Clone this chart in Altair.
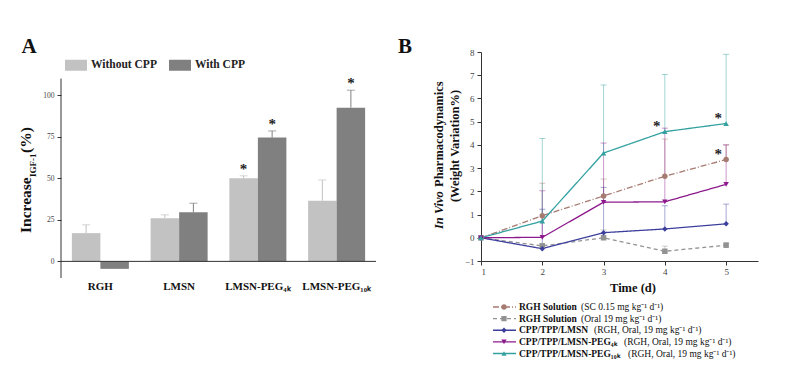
import altair as alt
import pandas as pd

SERIF = "Liberation Serif"

# ---------------- Panel A data ----------------
categories = ["RGH", "LMSN", "LMSN-PEG₄ₖ", "LMSN-PEG₁₀ₖ"]
groups = ["Without CPP", "With CPP"]
without_cpp = [17.0, 26.0, 50.0, 36.5]
without_err = [5.0, 2.0, 1.5, 12.5]
with_cpp = [-4.5, 29.5, 74.5, 92.5]
with_err = [0.0, 5.5, 4.0, 10.5]
without_star = [False, False, True, False]
with_star = [False, False, True, True]
y_ticks_a = [0, 25, 50, 75, 100]

# ---------------- Panel B data ----------------
days = [1, 2, 3, 4, 5]
series_names = ["RGH SC", "RGH Oral", "LMSN", "PEG4k", "PEG10k"]
rgh_sc = [0.0, 0.95, 1.80, 2.65, 3.37]
rgh_sc_err = [0.0, 1.40, 0.73, 1.60, 0.63]
rgh_oral = [0.0, -0.35, 0.0, -0.58, -0.32]
rgh_oral_err = [0.0, 0.10, 0.34, 0.22, 0.10]
lmsn = [0.0, -0.47, 0.22, 0.38, 0.60]
lmsn_err = [0.0, 1.70, 1.95, 1.00, 0.85]
peg4k = [0.0, 0.02, 1.53, 1.55, 2.30]
peg4k_err = [0.0, 2.00, 2.55, 3.17, 1.70]
peg10k = [0.0, 0.72, 3.65, 4.57, 4.92]
peg10k_err = [0.0, 3.55, 2.93, 2.46, 2.98]
rgh_sc_star = [False, False, False, False, True]
peg10k_star = [False, False, False, True, True]
y_ticks_b = [-1, 0, 1, 2, 3, 4, 5, 6, 7, 8]

legend_bold = ["RGH Solution", "RGH Solution", "CPP/TPP/LMSN",
               "CPP/TPP/LMSN-PEG₄ₖ", "CPP/TPP/LMSN-PEG₁₀ₖ"]
legend_rest = ["(SC 0.15 mg kg⁻¹ d⁻¹)", "(Oral 19 mg kg⁻¹ d⁻¹)",
               "(RGH, Oral, 19 mg kg⁻¹ d⁻¹)", "(RGH, Oral, 19 mg kg⁻¹ d⁻¹)",
               "(RGH, Oral, 19 mg kg⁻¹ d⁻¹)"]

# ---------------- styles / layout ----------------
bar_colors = ["#c2c2c2", "#808080"]
line_colors = ["#a67b72", "#929292", "#3c3f9c", "#8c1a8c", "#34a0a0"]
line_dashes = [[6, 2, 1, 2], [4, 3], [1, 0], [1, 0], [1, 0]]
shapes = ["circle", "square", "diamond", "triangle-down", "triangle-up"]
legend_rest_x = [100, 100, 113, 143, 147]

WA, HA = 315, 226
WB, HB = 277, 209
INK = "#111"

# ---------------- Panel A ----------------
rows = []
for i, c in enumerate(categories):
    rows.append(dict(category=c, group=groups[0], value=without_cpp[i],
                     err=without_err[i], star=without_star[i]))
    rows.append(dict(category=c, group=groups[1], value=with_cpp[i],
                     err=with_err[i], star=with_star[i]))
dfA = pd.DataFrame(rows)
dfA["upper"] = dfA["value"] + dfA["err"]

xA = alt.X("category:N", sort=categories,
           scale=alt.Scale(paddingInner=0.276, paddingOuter=0.138),
           axis=alt.Axis(title=None, domain=False, ticks=False, labelAngle=0,
                         labelFont=SERIF, labelFontWeight="bold", labelFontSize=11,
                         labelColor=INK, labelPadding=2))
xoffA = alt.XOffset("group:N", sort=groups, scale=alt.Scale(paddingInner=0))
yscaleA = alt.Scale(domain=[-10, 126], nice=False, zero=False)
yaxisA = alt.Axis(values=y_ticks_a, title=None, domain=False, grid=False,
                  tickSize=4, tickColor="#333", labelFont=SERIF, labelOverlap=False,
                  labelFontSize=7.5, labelColor="#444", labelPadding=3)
colA = alt.Color("group:N", sort=groups,
                 scale=alt.Scale(domain=groups, range=bar_colors),
                 legend=alt.Legend(title=None, orient="none", legendX=4, legendY=2,
                                   direction="horizontal", padding=0,
                                   symbolType="M-1,-0.5H1V0.5H-1Z", symbolSize=484,
                                   symbolStrokeWidth=0, symbolOpacity=1,
                                   labelFont=SERIF, labelFontWeight="bold",
                                   labelFontSize=11.5, labelColor="#222",
                                   columnPadding=12, labelOffset=4))
colA_plain = alt.Color("group:N", scale=alt.Scale(domain=groups, range=bar_colors), legend=None)

baseA = alt.Chart(dfA)
bars = baseA.mark_bar().encode(
    x=xA, xOffset=xoffA, y=alt.Y("value:Q", scale=yscaleA, axis=yaxisA), color=colA)
errA = baseA.transform_filter("datum.err > 0").mark_rule(strokeWidth=1).encode(
    x=xA, xOffset=xoffA, y=alt.Y("value:Q", scale=yscaleA, axis=yaxisA),
    y2="upper:Q", color=colA_plain)
capA = baseA.transform_filter("datum.err > 0").mark_tick(
    orient="horizontal", size=8, thickness=1).encode(
    x=xA, xOffset=xoffA, y=alt.Y("upper:Q", scale=yscaleA, axis=yaxisA), color=colA_plain)
starA = baseA.transform_filter("datum.star").mark_text(
    text="*", font=SERIF, fontSize=15, fontWeight="bold", baseline="alphabetic",
    dy=-2, color="#222").encode(
    x=xA, xOffset=xoffA, y=alt.Y("upper:Q", scale=yscaleA, axis=yaxisA))

one = pd.DataFrame({"a": [0]})
anchorA = alt.Chart(one).mark_rule(color="white", strokeWidth=0.5).encode(
    x=alt.value(-52), x2=alt.value(-51), y=alt.value(-43))
axisA = alt.Chart(one).mark_rule(color="#333", strokeWidth=1).encode(
    x=alt.value(0), y=alt.datum(-10), y2=alt.datum(110))
zeroA = alt.Chart(one).mark_rule(color="#333", strokeWidth=1).encode(
    x=alt.value(0), x2=alt.value(WA), y=alt.datum(0))
labelA = alt.Chart(one).mark_text(text="A", font=SERIF, fontSize=21, fontWeight="bold",
                                  baseline="middle", color=INK).encode(
    x=alt.value(-32), y=alt.value(-5))
titA1 = alt.Chart(one).mark_text(text="Increase", font=SERIF, fontSize=15.5, fontWeight="bold",
                                 angle=270, align="left", baseline="alphabetic",
                                 color=INK).encode(x=alt.value(-30.5), y=alt.value(181))
titA2 = alt.Chart(one).mark_text(text="IGF-1", font=SERIF, fontSize=9, fontWeight="bold",
                                 angle=270, align="left", baseline="alphabetic",
                                 color=INK).encode(x=alt.value(-25), y=alt.value(125))
titA3 = alt.Chart(one).mark_text(text="(%)", font=SERIF, fontSize=15.5, fontWeight="bold",
                                 angle=270, align="left", baseline="alphabetic",
                                 color=INK).encode(x=alt.value(-30.5), y=alt.value(101))

panelA = alt.layer(anchorA, bars, errA, capA, starA, axisA, zeroA, labelA,
                   titA1, titA2, titA3
                   ).resolve_scale(color="independent").properties(width=WA, height=HA)

# ---------------- Panel B ----------------
vals = [rgh_sc, rgh_oral, lmsn, peg4k, peg10k]
errs = [rgh_sc_err, rgh_oral_err, lmsn_err, peg4k_err, peg10k_err]
stars = [rgh_sc_star, [False] * 5, [False] * 5, [False] * 5, peg10k_star]
rowsB = []
for s, v, e, st in zip(series_names, vals, errs, stars):
    for d, vv, ee, ss in zip(days, v, e, st):
        rowsB.append(dict(series=s, day=d, value=vv, err=ee, upper=vv + ee, star=ss))
dfB = pd.DataFrame(rowsB)

xB = alt.X("day:Q", scale=alt.Scale(domain=[1, 5.52], nice=False, zero=False),
           axis=alt.Axis(values=days, format="d", title=None, grid=False,
                         tickSize=4, tickColor="#333", domainColor="#333",
                         labelFont=SERIF, labelFontSize=9, labelColor="#444",
                         labelPadding=2, labelOverlap=False))
yscaleB = alt.Scale(domain=[-1, 8], nice=False, zero=False)
yaxisB = alt.Axis(values=y_ticks_b, title=None, grid=False, format="d",
                  tickSize=4, tickColor="#333", domainColor="#333",
                  labelFont=SERIF, labelFontSize=9, labelColor="#444",
                  labelPadding=3, labelOverlap=False)
yB = alt.Y("value:Q", scale=yscaleB, axis=yaxisB)
yBup = alt.Y("upper:Q", scale=yscaleB, axis=yaxisB)
colB = alt.Color("series:N", scale=alt.Scale(domain=series_names, range=line_colors), legend=None)
dashB = alt.StrokeDash("series:N", scale=alt.Scale(domain=series_names, range=line_dashes), legend=None)
shapeB = alt.Shape("series:N", scale=alt.Scale(domain=series_names, range=shapes), legend=None)

baseB = alt.Chart(dfB)
errB = baseB.transform_filter("datum.err > 0").mark_rule(strokeWidth=1, opacity=0.45).encode(
    x=xB, y=yB, y2="upper:Q", color=colB)
capB = baseB.transform_filter("datum.err > 0").mark_tick(
    orient="horizontal", size=6, thickness=1, opacity=0.45).encode(
    x=xB, y=yBup, color=colB)
linesB = baseB.mark_line(strokeWidth=1.3).encode(
    x=xB, y=yB, color=colB, strokeDash=dashB, detail="series:N")
ptsB = baseB.mark_point(filled=True, size=30, opacity=1).encode(
    x=xB, y=yB, color=colB, shape=shapeB)
starB = baseB.transform_filter("datum.star").mark_text(
    text="*", font=SERIF, fontSize=15, fontWeight="bold", baseline="alphabetic",
    dx=-8, dy=-1, color="#222").encode(x=xB, y=yB)
labelB = alt.Chart(one).mark_text(text="B", font=SERIF, fontSize=21, fontWeight="bold",
                                  baseline="middle", color=INK).encode(
    x=alt.value(-76), y=alt.value(-5))
titB1a = alt.Chart(one).mark_text(text="In Vivo", font=SERIF, fontSize=12.5, fontWeight="bold",
                                  fontStyle="italic", angle=270, align="left",
                                  baseline="middle", color=INK).encode(
    x=alt.value(-42), y=alt.value(177))
titB1b = alt.Chart(one).mark_text(text="Pharmacodynamics", font=SERIF, fontSize=12.5,
                                  fontWeight="bold", angle=270, align="left",
                                  baseline="middle", color=INK).encode(
    x=alt.value(-42), y=alt.value(135))
titB2 = alt.Chart(one).mark_text(text="(Weight Variation%)", font=SERIF, fontSize=12.5,
                                 fontWeight="bold", angle=270, baseline="middle",
                                 color=INK).encode(x=alt.value(-26), y=alt.value(94))
timeB = alt.Chart(one).mark_text(text="Time (d)", font=SERIF, fontSize=12.5,
                                 fontWeight="bold", baseline="middle",
                                 color=INK).encode(x=alt.value(152), y=alt.value(236))

panelB = alt.layer(errB, capB, linesB, ptsB, starB, labelB, titB1a, titB1b, titB2, timeB
                   ).properties(width=WB, height=HB)

# ---------------- Panel B legend ----------------
dfL = pd.DataFrame({"row": list(range(5)), "series": series_names,
                    "bold": legend_bold, "rest": legend_rest,
                    "rest_x": legend_rest_x})
yL = alt.Y("row:Q", scale=alt.Scale(domain=[0, 4], range=[7, 53.5]), axis=None)
baseL = alt.Chart(dfL)
legLine = baseL.mark_rule(strokeWidth=1.3).encode(
    x=alt.value(12), x2=alt.value(35), y=yL, color=colB, strokeDash=dashB)
legPt = baseL.mark_point(filled=True, size=28, opacity=1).encode(
    x=alt.value(23), y=yL, color=colB, shape=shapeB)
legBold = baseL.mark_text(align="left", baseline="middle", font=SERIF, fontSize=9.5,
                          fontWeight="bold", color=INK).encode(
    x=alt.value(38), y=yL, text="bold:N")
legRest = baseL.mark_text(align="left", baseline="middle", font=SERIF, fontSize=9.5,
                          color=INK).encode(
    x=alt.X("rest_x:Q", scale=None, axis=None), y=yL, text="rest:N")
legendB = alt.layer(legLine, legPt, legBold, legRest).properties(width=WB, height=60)

right = alt.vconcat(panelB, legendB, spacing=39, bounds="flush")
chart = alt.hconcat(panelA, right, spacing=105, bounds="flush").configure_view(
    stroke=None).properties(background="white",
                            padding={"left": 0, "top": 0, "right": 5, "bottom": 5})

chart.save("out.html", embed_options={"renderer": "svg", "actions": False})
